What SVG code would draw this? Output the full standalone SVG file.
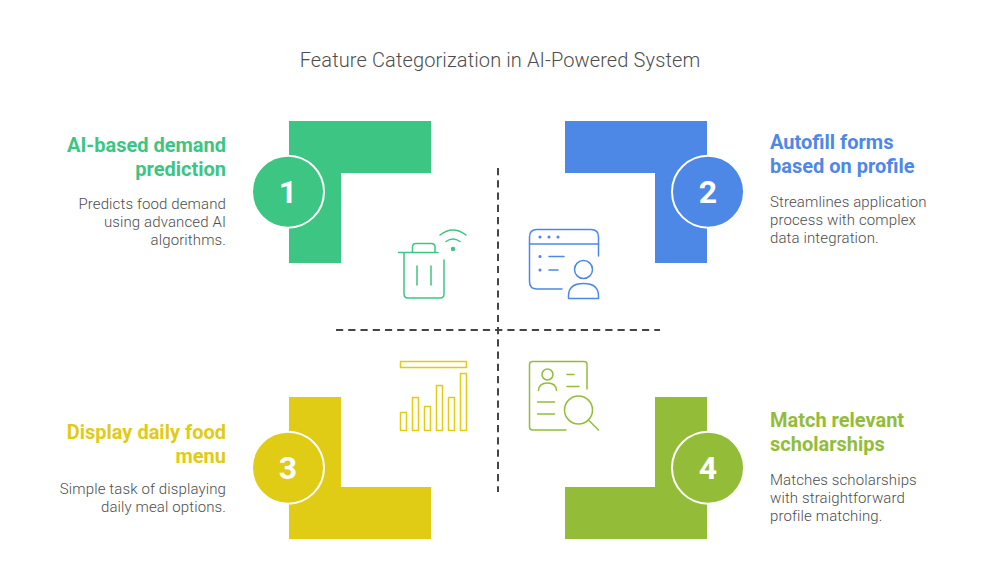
<svg xmlns="http://www.w3.org/2000/svg" width="1000" height="571" viewBox="0 0 1000 571">
<style>
text{font-family:Roboto,"Liberation Sans",sans-serif}
.title{font-size:20px;fill:#4d4d4d;font-weight:300;letter-spacing:.12px}
.h{font-size:20px;font-weight:700}
.d{font-size:15px;font-weight:300;fill:#4d4d4d;letter-spacing:.12px}
.n{font-size:32px;font-weight:700;fill:#fff;text-anchor:middle}
.e{text-anchor:end}
.c{stroke:#fff;stroke-width:2}
.i{fill:none;stroke-width:1.5;stroke-linecap:round;stroke-linejoin:round}
.dash{stroke:#454545;stroke-width:2;stroke-dasharray:7.2 5.04;fill:none}
.g{fill:#3cc583}.b{fill:#4e88e7}.y{fill:#e0cb15}.l{fill:#93bd38}
</style>
<rect width="1000" height="571" fill="#fff"/>
<text class="title" x="500" y="67" text-anchor="middle">Feature Categorization in AI-Powered System</text>
<g id="connectors">
<path class="dash" d="M336 330H660"/>
<path class="dash" d="M498 168V492"/>
</g>
<g id="node1">
<path class="g" d="M289 121H431V173H341V263H289Z"/>
<circle class="g c" cx="288" cy="191.700" r="36"/>
<text class="n" x="288" y="203">1</text>
<text class="h g e" x="226" y="152">AI-based demand</text>
<text class="h g e" x="226" y="176">prediction</text>
<text class="d e" x="226" y="209">Predicts food demand</text>
<text class="d e" x="226" y="227">using advanced AI</text>
<text class="d e" x="226" y="245">algorithms.</text>
<g class="i" stroke="#3cc583">
<path d="M398.500 252.500H438M404 253V294Q404 298 408 298H440Q444 298 444 294V260"/>
<path d="M412.500 252V247Q412.500 243.500 416 243.500H431Q435 243.500 435 247V252"/>
<path d="M417 266V285M431 266V285"/>
<path d="M440 235Q453 225 466 235M446 241.500Q453 236.500 460 241.500"/>
<circle cx="453" cy="249" r="1.500" fill="#3cc583"/>
</g>
</g>
<g id="node2">
<path class="b" d="M565 121H707V263H655V173H565Z"/>
<circle class="b c" cx="708" cy="191.700" r="36"/>
<text class="n" x="708" y="203">2</text>
<text class="h b" x="770" y="149">Autofill forms</text>
<text class="h b" x="770" y="173">based on profile</text>
<text class="d" x="770" y="207">Streamlines application</text>
<text class="d" x="770" y="225">process with complex</text>
<text class="d" x="770" y="243">data integration.</text>
<g class="i" stroke="#4e88e7">
<path d="M562 289H537Q529.500 289 529.500 281.500V237Q529.500 229.500 537 229.500H591Q598.500 229.500 598.500 237V256"/>
<path d="M529.500 244H598.500"/>
<path d="M549 256.500H564M549 270H558"/>
<circle cx="583.500" cy="269.500" r="9"/>
<path d="M568.500 298.500V296Q568.500 283.500 583.500 283.500T598.500 296V298.500Z"/>
<g fill="#4e88e7"><circle cx="540" cy="237" r=".8"/><circle cx="549" cy="237" r=".8"/><circle cx="558" cy="237" r=".8"/><circle cx="540" cy="256.500" r=".8"/><circle cx="540" cy="270" r=".8"/></g>
</g>
</g>
<g id="node3">
<path class="y" d="M289 397H341V487H431V539H289Z"/>
<circle class="y c" cx="288" cy="467.700" r="36"/>
<text class="n" x="288" y="479">3</text>
<text class="h y e" x="226" y="439">Display daily food</text>
<text class="h y e" x="226" y="463">menu</text>
<text class="d e" x="226" y="494">Simple task of displaying</text>
<text class="d e" x="226" y="512">daily meal options.</text>
<g class="i" stroke="#e0cb15">
<rect x="400.500" y="361.500" width="66" height="6"/>
<rect x="400.500" y="412.500" width="6" height="18"/>
<rect x="412.500" y="397.500" width="6" height="33"/>
<rect x="424.500" y="406.500" width="6" height="24"/>
<rect x="436.500" y="385.500" width="6" height="45"/>
<rect x="448.500" y="397.500" width="6" height="33"/>
<rect x="460.500" y="373.500" width="6" height="57"/>
</g>
</g>
<g id="node4">
<path class="l" d="M655 397H707V539H565V487H655Z"/>
<circle class="l c" cx="708" cy="467.700" r="36"/>
<text class="n" x="708" y="479">4</text>
<text class="h l" x="770" y="427">Match relevant</text>
<text class="h l" x="770" y="451">scholarships</text>
<text class="d" x="770" y="485">Matches scholarships</text>
<text class="d" x="770" y="503">with straightforward</text>
<text class="d" x="770" y="521">profile matching.</text>
<g class="i" stroke="#93bd38">
<path d="M566 430H532.500Q529.500 430 529.500 427V364.500Q529.500 361.500 532.500 361.500H584Q587 361.500 587 364.500V389"/>
<circle cx="547.500" cy="374.500" r="5.500"/>
<path d="M538.500 390.500Q539 383 547.500 383T556.500 390.500"/>
<path d="M567 374.500H574M567 386.500H579M537.500 402H554.500M537.500 414H554.500"/>
<circle cx="578.500" cy="410" r="14"/>
<path d="M589 420.500L598.500 430"/>
</g>
</g>
</svg>
